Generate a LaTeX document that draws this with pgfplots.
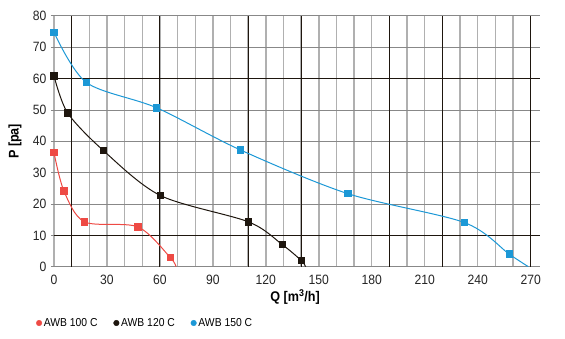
\documentclass[border=0pt]{standalone}
\usepackage{fontspec}
\setmainfont{Liberation Sans}[FakeStretch=0.9]
\usepackage{pgfplots}
\pgfplotsset{compat=1.18}
\definecolor{cred}{HTML}{EE4A44}
\definecolor{cblk}{HTML}{1E160E}
\definecolor{cblu}{HTML}{1C98D6}
\definecolor{glight}{HTML}{B0B0B0}
\definecolor{gdark}{HTML}{888888}
\begin{document}
\begin{tikzpicture}
\useasboundingbox (-54pt,-72.3pt) rectangle (511pt,266.7pt);
\begin{axis}[
  at={(0pt,0pt)}, anchor=south west,
  scale only axis, width=486pt, height=250.7pt,
  xmin=0, xmax=275.3, ymin=0, ymax=80,
  /pgf/number format/assume math mode=true,
  tick label style={font=\fontsize{13.5}{15}\selectfont, text=black!85},
  xtick={0,30,...,270},
  ytick={0,10,...,80},
  minor xtick={0,10,...,270},
  xminorgrids=true,
  minor grid style={glight, line width=1.4pt},
  ymajorgrids=true,
  major grid style={gdark, line width=1pt},
  extra x ticks={10,60,110,140,190,220,270},
  extra x tick labels={},
  extra x tick style={grid=major, major grid style={cblk, line width=0.9pt}, major tick length=0pt},
  extra y ticks={10,60},
  extra y tick labels={},
  extra y tick style={grid=major, major grid style={cblk, line width=0.9pt}, major tick length=0pt},
  axis line style={glight, line width=1.4pt},
  x axis line style={draw=none},
  y axis line style={draw=none},
  xtick style={draw=none},
  ytick style={gdark, line width=1pt},
  ytick pos=left,
  tick align=outside,
  major tick length=3pt,
  minor tick length=0pt,
  xticklabel style={yshift=-2pt},
  yticklabel style={xshift=-1pt},
  xlabel={\textbf{Q [m\textsuperscript{3}/h]}},
  ylabel={\textbf{P [pa]}},
  label style={font=\fontsize{14}{16}\selectfont},
  xlabel style={at={(axis description cs:0.496,-0.121)}, anchor=center},
  ylabel style={at={(axis description cs:-0.08,0.5)}, anchor=center},
  legend style={at={(axis description cs:-0.043,-0.2246)}, anchor=west, draw=none, fill=none,
    font=\fontsize{11.5}{13}\selectfont, legend columns=3,
    /tikz/every even column/.append style={column sep=14pt}},
  legend cell align=left,
]
\addplot[cred, line width=1pt, smooth, mark=square*, mark size=3.2pt, mark indices={1,2,3,4,5}, forget plot] coordinates {
(0,36.4) (5.6,24.2) (17.3,14.3) (47.5,12.7) (65.9,2.9) (69.1,0)};
\addplot[cblk, line width=1pt, smooth, mark=square*, mark size=3.2pt, mark indices={1,2,3,4,5,6,7}, forget plot] coordinates {
(0,60.9) (7.7,49.1) (28.1,37.0) (60.3,22.7) (110.2,14.3) (129.4,7.0) (140.2,1.9) (142.5,0)};
\addplot[cblu, line width=1pt, smooth, mark=square*, mark size=3.2pt, mark indices={1,2,3,4,5,6,7}, forget plot] coordinates {
(0,74.8) (18.3,58.8) (58.2,50.7) (105.8,37.2) (166.5,23.3) (232.4,14.1) (257.9,4.0) (268.7,0)};
\addlegendimage{only marks, mark=*, mark size=2.8pt, cred}
\addlegendentry{AWB 100 C}
\addlegendimage{only marks, mark=*, mark size=2.8pt, cblk}
\addlegendentry{AWB 120 C}
\addlegendimage{only marks, mark=*, mark size=2.8pt, cblu}
\addlegendentry{AWB 150 C}
\end{axis}
\end{tikzpicture}
\end{document}
